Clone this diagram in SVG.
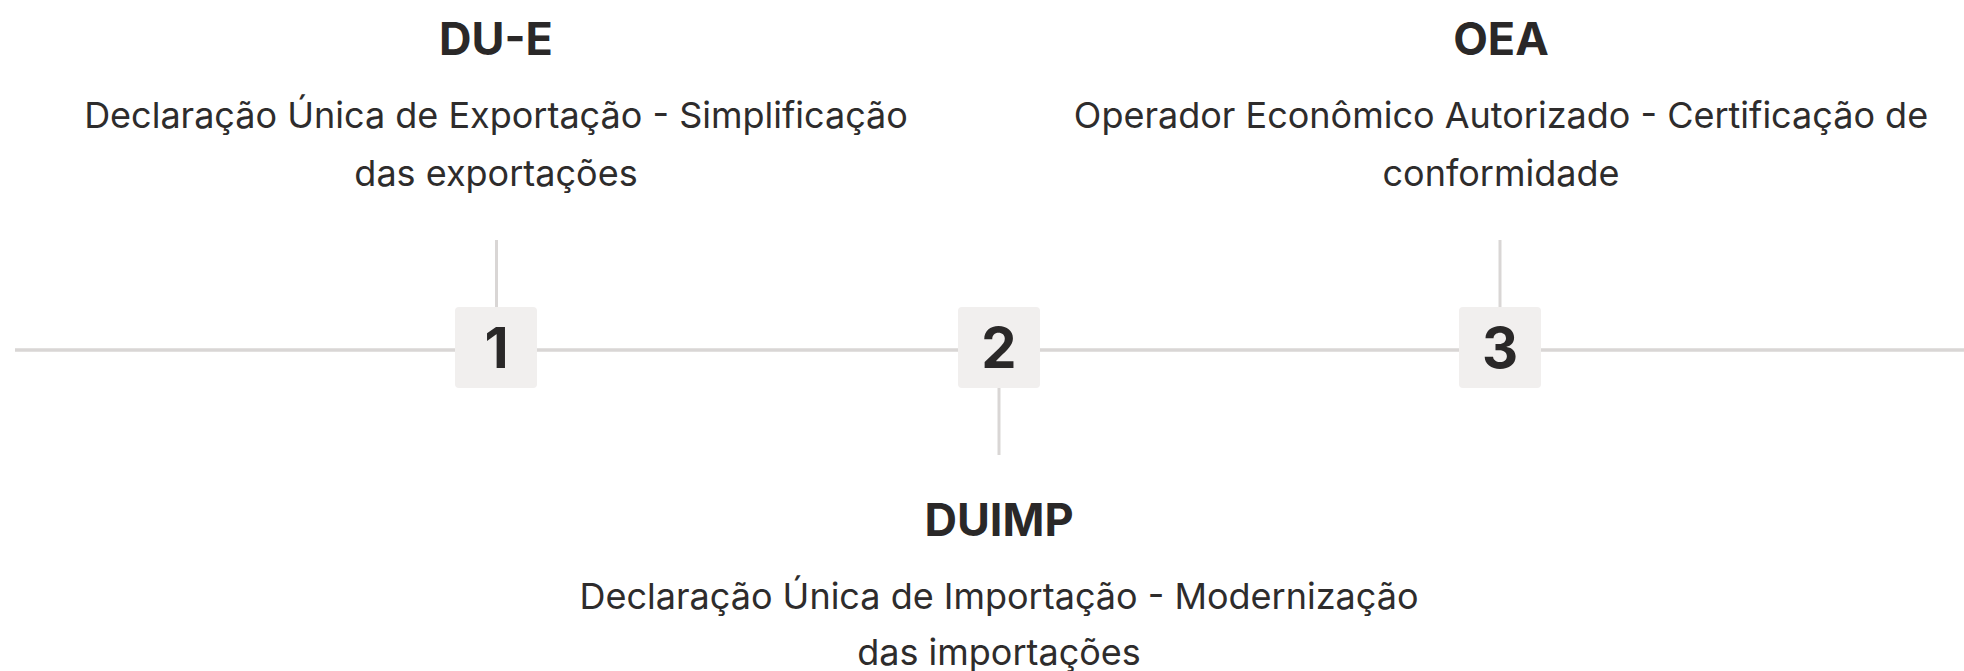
<svg xmlns="http://www.w3.org/2000/svg" width="1964" height="671" viewBox="0 0 1964 671">
<style>
.title{font-family:Inter,"Noto Sans",sans-serif;font-weight:700;font-size:45px;fill:#2a2828;text-anchor:middle}
.desc{font-family:Inter,"Noto Sans",sans-serif;font-weight:400;font-size:36px;fill:#2e2c2c;text-anchor:middle}
.num{font-family:Inter,"Noto Sans",sans-serif;font-weight:700;font-size:56px;fill:#2a2828;text-anchor:middle}
.box{fill:#f1efee}
.ln{stroke:#d9d6d5;stroke-width:3.5;fill:none}
.tick{stroke:#d9d6d5;stroke-width:3;fill:none}
</style>
<g id="connectors">
<line class="ln" x1="15" y1="350" x2="1964" y2="350"/>
<line class="tick" x1="496.5" y1="240" x2="496.5" y2="308"/>
<line class="tick" x1="999" y1="386" x2="999" y2="455"/>
<line class="tick" x1="1500" y1="240" x2="1500" y2="308"/>
</g>
<g id="node1">
<rect class="box" x="455" y="307" width="82" height="81" rx="4"/>
<text class="num" x="496.5" y="368">1</text>
<text class="title" x="496" y="55">DU-E</text>
<text class="desc" x="496" y="128">Declaração Única de Exportação - Simplificação</text>
<text class="desc" x="496" y="186">das exportações</text>
</g>
<g id="node2">
<rect class="box" x="958" y="307" width="82" height="81" rx="4"/>
<text class="num" x="999" y="368">2</text>
<text class="title" x="999" y="536">DUIMP</text>
<text class="desc" x="999" y="609">Declaração Única de Importação - Modernização</text>
<text class="desc" x="999" y="665">das importações</text>
</g>
<g id="node3">
<rect class="box" x="1459" y="307" width="82" height="81" rx="4"/>
<text class="num" x="1500" y="368">3</text>
<text class="title" x="1501" y="55">OEA</text>
<text class="desc" x="1501" y="128">Operador Econômico Autorizado - Certificação de</text>
<text class="desc" x="1501" y="186">conformidade</text>
</g>
</svg>
